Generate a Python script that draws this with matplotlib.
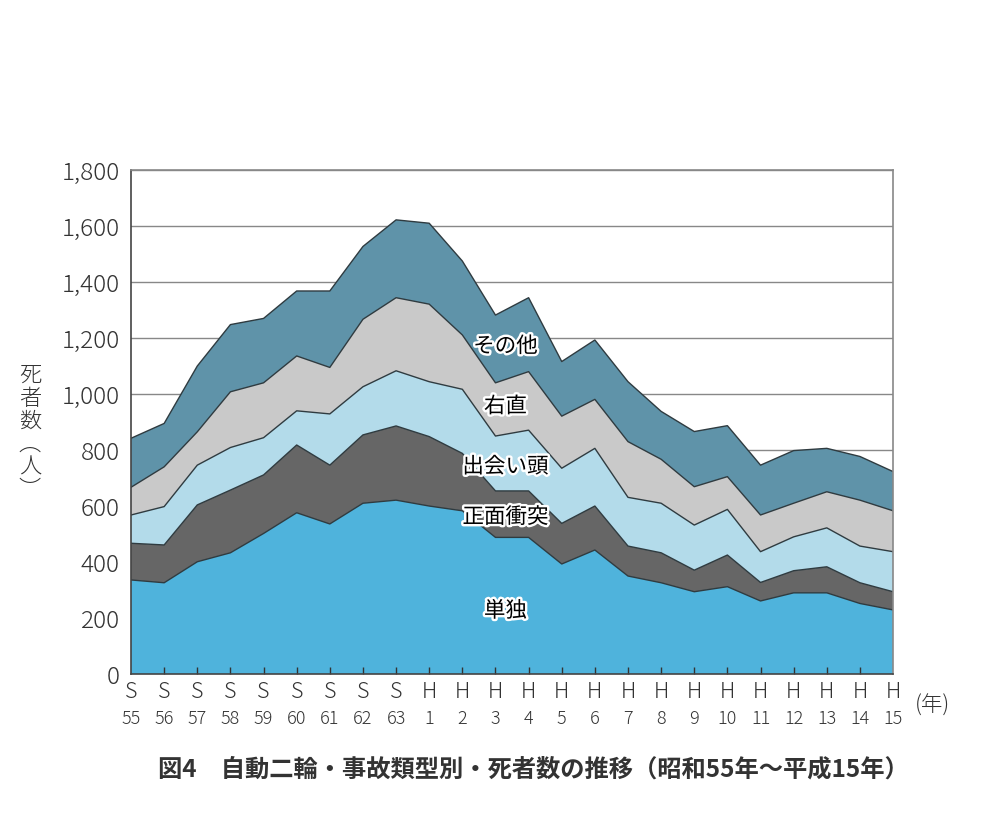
import numpy as np
import matplotlib
matplotlib.use("Agg")
import matplotlib.pyplot as plt
import matplotlib.patheffects as pe

plt.rcParams['font.family'] = ['Noto Sans CJK JP', 'DejaVu Sans']

# 年（昭和55年～平成15年）
era = ['S'] * 9 + ['H'] * 15
year_no = ['55', '56', '57', '58', '59', '60', '61', '62', '63',
           '1', '2', '3', '4', '5', '6', '7', '8', '9', '10',
           '11', '12', '13', '14', '15']

# 事故類型別 死者数
tandoku = [336, 326, 401, 433, 502, 576, 536, 610, 621, 600, 583, 488,
           488, 393, 443, 350, 326, 294, 312, 261, 290, 290, 252, 229]
shomen = [131, 135, 203, 224, 209, 242, 210, 244, 265, 248, 205, 166,
          166, 145, 157, 107, 107, 77, 113, 66, 79, 93, 74, 65]
deaigashira = [101, 137, 142, 152, 133, 122, 183, 172, 197, 196, 229, 196,
               217, 197, 206, 174, 177, 161, 163, 110, 121, 139, 131, 143]
uchoku = [99, 142, 119, 199, 196, 196, 166, 241, 261, 277, 194, 190,
          209, 186, 175, 199, 157, 137, 117, 131, 120, 129, 164, 146]
sonota = [175, 155, 235, 240, 230, 232, 273, 260, 278, 289, 264, 242,
          264, 195, 212, 214, 171, 197, 182, 178, 188, 155, 156, 140]

series = [tandoku, shomen, deaigashira, uchoku, sonota]
names = ['単独', '正面衝突', '出会い頭', '右直', 'その他']
colors = ['#4fb3dc', '#666666', '#b3dbea', '#c9c9c9', '#5f93a9']

fig = plt.figure(figsize=(10.04, 8.19), dpi=100)
ax = fig.add_axes([0.1305, 0.177, 0.759, 0.6154])

yticks = np.arange(0, 1801, 200)
# 横の目盛線は面の下に
for yv in yticks[1:]:
    ax.axhline(yv, color='#888888', lw=1.0, zorder=1)

x = np.arange(len(era))
base = np.zeros(len(x))
for vals, col in zip(series, colors):
    top = base + np.array(vals)
    ax.fill_between(x, base, top, facecolor=col, edgecolor='none', zorder=2)
    ax.plot(x, top, color='#2f3b40', lw=1.0, zorder=3)
    base = top

ax.set_xlim(0, len(x) - 1)
ax.set_ylim(0, 1800)
ax.set_yticks(yticks)
ax.set_yticklabels([f'{v:,}' for v in yticks],
                   fontsize=17.5, color='#333333', fontweight='light')
ax.tick_params(axis='y', length=0, pad=8)
for s in ax.spines.values():
    s.set_color('#888888')
    s.set_linewidth(1.2)
    s.set_zorder(4)
ax.spines['left'].set_color('#444444')
ax.spines['bottom'].set_color('#444444')

# x軸の目盛（内向き）
ax.set_xticks(x[1:-1])
ax.set_xticklabels([])
ax.tick_params(axis='x', direction='in', length=5, color='#333333', width=1)
ax.set_axisbelow(False)

trans = ax.get_xaxis_transform()
for xi, e, n in zip(x, era, year_no):
    ax.text(xi, -0.035, e, transform=trans, ha='center', va='center',
            fontsize=15.5, color='#333333', fontweight='light')
    ax.text(xi, -0.09, n, transform=trans, ha='center', va='center',
            fontsize=13, color='#333333', fontweight='light')
ax.text(len(x) - 1 + 1.2, -0.062, '(年)', transform=trans, ha='center',
        va='center', fontsize=15.5, color='#333333', fontweight='light')

# 系列ラベル
label_pos = [(11.3, 225), (11.3, 560), (11.3, 740), (11.3, 955), (11.3, 1170)]
outline = [pe.withStroke(linewidth=3.5, foreground='white')]
for (lx, ly), nm in zip(label_pos, names):
    ax.text(lx, ly, nm, ha='center', va='center', fontsize=15.5,
            color='black', path_effects=outline, zorder=6)

# 縦書きの軸ラベル
fig.text(30 / 1004, 1 - 433 / 819, '死\n者\n数\n︵\n人\n︶', ha='center',
         va='center', fontsize=16, color='#333333', linespacing=1.05,
         fontweight='light')

fig.text(533 / 1004, 1 - 770 / 819,
         '図4　自動二輪・事故類型別・死者数の推移（昭和55年～平成15年）',
         ha='center', va='center', fontsize=17.5, fontweight='bold',
         color='#333333')

fig.savefig('out.png', dpi=100, facecolor='white')
